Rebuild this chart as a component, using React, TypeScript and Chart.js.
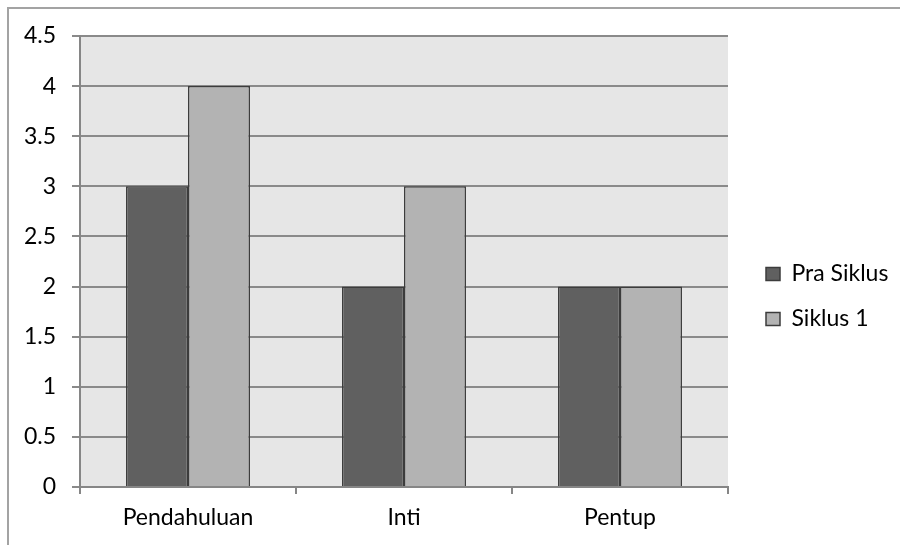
import React, { useEffect, useRef } from "react";
import { Chart, registerables } from "chart.js";

Chart.register(...registerables);

const categories = ["Pendahuluan", "Inti", "Pentup"];
const praSiklus = [3, 2, 2];
const siklus1 = [4, 3, 2];
const seriesNames = ["Pra Siklus", "Siklus 1"];
const yMax = 4.5;
const yStep = 0.5;

const FONT = "Lato, 'Open Sans', sans-serif";
const FONT_SIZE = 23;

const plotBg = {
  id: "plotBg",
  beforeDraw(chart: any) {
    const { ctx, chartArea } = chart;
    ctx.save();
    ctx.fillStyle = "#e6e6e6";
    ctx.fillRect(chartArea.left, chartArea.top, chartArea.right - chartArea.left, chartArea.bottom - chartArea.top);
    ctx.restore();
  },
};

const legendFix = {
  id: "legendFix",
  beforeLayout(chart: any) {
    const lg = chart.legend;
    if (lg && !lg._patched) {
      const orig = lg.fit.bind(lg);
      lg.fit = function () {
        orig();
        this.width = 172;
      };
      lg._patched = true;
    }
  },
  afterLayout(chart: any) {
    const lg = chart.legend;
    if (lg) {
      lg.left += 16;
      lg.right += 16;
      lg.top += 6;
      lg.bottom += 6;
    }
  },
};

export default function App() {
  const ref = useRef<HTMLCanvasElement>(null);
  useEffect(() => {
    const chart = new Chart(ref.current as HTMLCanvasElement, {
      type: "bar",
      data: {
        labels: categories,
        datasets: [
          {
            label: seriesNames[0],
            data: praSiklus,
            backgroundColor: "#606060",
            borderColor: "#3c3c3c",
            borderWidth: 1.5,
          },
          {
            label: seriesNames[1],
            data: siklus1,
            backgroundColor: "#b3b3b3",
            borderColor: "#3c3c3c",
            borderWidth: 1.5,
          },
        ],
      },
      options: {
        animation: false,
        responsive: false,
        maintainAspectRatio: false,
        layout: { padding: { top: 36, left: 0, right: 0, bottom: 0 } },
        datasets: { bar: { categoryPercentage: 0.574, barPercentage: 1 } },
        plugins: {
          legend: {
            position: "right",
            labels: {
              font: { family: FONT, size: FONT_SIZE },
              color: "#000",
              boxWidth: 14,
              boxHeight: 13,
              padding: 22,
            },
          },
          tooltip: { enabled: false },
        },
        scales: {
          x: {
            grid: {
              drawOnChartArea: false,
              drawTicks: true,
              tickLength: 7,
              color: "#868686",
              lineWidth: 2,
              offset: true,
            },
            border: { display: true, color: "#868686", width: 2 },
            ticks: {
              font: { family: FONT, size: FONT_SIZE },
              color: "#000",
              padding: 10,
            },
            afterFit(scale: any) {
              scale.height = 58;
              scale.paddingLeft = 0;
              scale.paddingRight = 0;
            },
          },
          y: {
            min: 0,
            max: yMax,
            ticks: {
              stepSize: yStep,
              font: { family: FONT, size: FONT_SIZE },
              color: "#000",
              padding: 16,
              callback: (v: any) => String(v),
            },
            grid: {
              color: "#8a8a8a",
              lineWidth: 2,
              tickLength: 8,
            },
            border: { display: true, color: "#868686", width: 2 },
            afterFit(scale: any) {
              scale.width = 80;
              scale.paddingTop = 0;
              scale.paddingBottom = 0;
            },
          },
        },
      },
      plugins: [plotBg, legendFix],
    });
    return () => chart.destroy();
  }, []);

  return (
    <div
      style={{
        position: "fixed",
        left: 0,
        top: 0,
        width: 900,
        height: 545,
        overflow: "hidden",
        background: "#fff",
      }}
    >
      <div
        style={{
          position: "absolute",
          left: 7,
          top: 7,
          width: 1000,
          height: 1000,
          border: "2px solid #a3a3a3",
        }}
      />
      <canvas
        ref={ref}
        width={900}
        height={545}
        style={{ position: "absolute", left: 0, top: 0, width: 900, height: 545 }}
      />
    </div>
  );
}
